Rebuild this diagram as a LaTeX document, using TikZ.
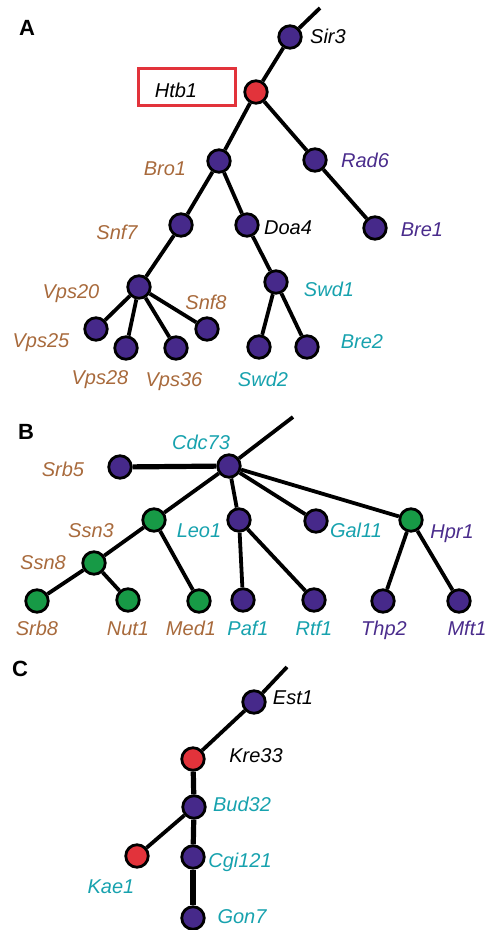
\documentclass[tikz,border=0pt]{standalone}
\usepackage{fontspec}
\setmainfont{Liberation Sans}
\definecolor{npurple}{HTML}{46298A}
\definecolor{nred}{HTML}{E2333B}
\definecolor{ngreen}{HTML}{179A46}
\definecolor{lbrown}{HTML}{A86A3C}
\definecolor{lcyan}{HTML}{17A2AE}
\definecolor{lpurple}{HTML}{4A2C8C}
\begin{document}
\begin{tikzpicture}[x=1pt,y=-1pt,
  gnode/.style={circle,draw=black,line width=2.8pt,minimum size=22.5pt,inner sep=0pt},
  pn/.style={gnode,fill=npurple},
  rn/.style={gnode,fill=nred},
  gn/.style={gnode,fill=ngreen},
  lbl/.style={font=\fontsize{20}{22}\selectfont\itshape,inner sep=0pt,text height=14pt,text depth=0pt,anchor=center},
  panel/.style={font=\fontsize{22}{24}\selectfont\bfseries,inner sep=0pt,text height=16pt,text depth=0pt,anchor=center},
  edge/.style={line width=3.8pt},
  thick edge/.style={line width=5.2pt}
]
\useasboundingbox (0,0) rectangle (489,930);
% ---------- Panel A ----------
\node[panel] (pA) at (27,27) {A};
\coordinate (topA) at (320,8);
\node[pn] (nSir3) at (290,37) {};
\node[rn] (nHtb1) at (256,92) {};
\node[pn] (nBro1) at (219,161) {};
\node[pn] (nRad6) at (315,160) {};
\node[pn] (nSnf7) at (181,225) {};
\node[pn] (nDoa4) at (247,225) {};
\node[pn] (nBre1) at (375,228) {};
\node[pn] (nVps20) at (139,287) {};
\node[pn] (nSwd1) at (276,282) {};
\node[pn] (nVps25) at (96,329) {};
\node[pn] (nVps28) at (126,348) {};
\node[pn] (nVps36) at (176,348) {};
\node[pn] (nSnf8) at (207,329) {};
\node[pn] (nSwd2) at (259,347) {};
\node[pn] (nBre2) at (307,347) {};
\node[draw=nred,line width=2.8pt,minimum width=97pt,minimum height=37pt,inner sep=0pt] (htbbox) at (187,87) {};
\draw[edge] (topA) -- (nSir3);
\draw[edge] (nSir3) -- (nHtb1);
\draw[edge] (nHtb1) -- (nBro1);
\draw[edge] (nHtb1) -- (nRad6);
\draw[edge] (nRad6) -- (nBre1);
\draw[edge] (nBro1) -- (nSnf7);
\draw[edge] (nBro1) -- (nDoa4);
\draw[edge] (nSnf7) -- (nVps20);
\draw[edge] (nDoa4) -- (nSwd1);
\draw[edge] (nVps20) -- (nVps25);
\draw[edge] (nVps20) -- (nVps28);
\draw[edge] (nVps20) -- (nVps36);
\draw[edge] (nVps20) -- (nSnf8);
\draw[edge] (nSwd1) -- (nSwd2);
\draw[edge] (nSwd1) -- (nBre2);
\node[lbl] (tSir3) at (328,36) {Sir3};
\node[lbl] (tHtb1) at (176,90) {Htb1};
\node[lbl,text=lbrown] (tBro1) at (165,168) {Bro1};
\node[lbl,text=lpurple] (tRad6) at (365,160) {Rad6};
\node[lbl,text=lbrown] (tSnf7) at (117,232) {Snf7};
\node[lbl] (tDoa4) at (288,227) {Doa4};
\node[lbl,text=lpurple] (tBre1) at (422,229) {Bre1};
\node[lbl,text=lbrown] (tVps20) at (71,291) {Vps20};
\node[lbl,text=lcyan] (tSwd1) at (329,289) {Swd1};
\node[lbl,text=lbrown] (tSnf8) at (206,302) {Snf8};
\node[lbl,text=lbrown] (tVps25) at (41,340) {Vps25};
\node[lbl,text=lbrown] (tVps28) at (100,377) {Vps28};
\node[lbl,text=lbrown] (tVps36) at (174,379) {Vps36};
\node[lbl,text=lcyan] (tSwd2) at (263,379) {Swd2};
\node[lbl,text=lcyan] (tBre2) at (362,341) {Bre2};
% ---------- Panel B ----------
\node[panel] (pB) at (26,431) {B};
\coordinate (topB) at (293,417);
\node[pn] (nCdc73) at (229,466) {};
\node[pn] (nSrb5) at (120,467) {};
\node[gn] (nSsn3) at (154,520) {};
\node[pn] (nLeo1) at (239,520) {};
\node[pn] (nGal11) at (316,521) {};
\node[gn] (nHpr1) at (411,520) {};
\node[gn] (nSsn8) at (94,563) {};
\node[gn] (nSrb8) at (37,601) {};
\node[gn] (nNut1) at (128,600) {};
\node[gn] (nMed1) at (199,601) {};
\node[pn] (nPaf1) at (243,600) {};
\node[pn] (nRtf1) at (314,600) {};
\node[pn] (nThp2) at (383,601) {};
\node[pn] (nMft1) at (459,601) {};
\draw[edge] (topB) -- (nCdc73);
\draw[thick edge] (nCdc73) -- (nSrb5);
\draw[edge] (nCdc73) -- (nSsn3);
\draw[edge] (nCdc73) -- (nLeo1);
\draw[edge] (nCdc73) -- (nGal11);
\draw[edge] (nCdc73) -- (nHpr1);
\draw[edge] (nSsn3) -- (nSsn8);
\draw[edge] (nSsn3) -- (nMed1);
\draw[edge] (nSsn8) -- (nSrb8);
\draw[edge] (nSsn8) -- (nNut1);
\draw[edge] (nLeo1) -- (nPaf1);
\draw[edge] (nLeo1) -- (nRtf1);
\draw[edge] (nHpr1) -- (nThp2);
\draw[edge] (nHpr1) -- (nMft1);
\node[lbl,text=lcyan] (tCdc73) at (201,442) {Cdc73};
\node[lbl,text=lbrown] (tSrb5) at (63,469) {Srb5};
\node[lbl,text=lbrown] (tSsn3) at (91,530) {Ssn3};
\node[lbl,text=lcyan] (tLeo1) at (199,530) {Leo1};
\node[lbl,text=lcyan] (tGal11) at (356,530) {Gal11};
\node[lbl,text=lpurple] (tHpr1) at (452,531) {Hpr1};
\node[lbl,text=lbrown] (tSsn8) at (43,562) {Ssn8};
\node[lbl,text=lbrown] (tSrb8) at (37,628) {Srb8};
\node[lbl,text=lbrown] (tNut1) at (128,628) {Nut1};
\node[lbl,text=lbrown] (tMed1) at (191,628) {Med1};
\node[lbl,text=lcyan] (tPaf1) at (248,628) {Paf1};
\node[lbl,text=lcyan] (tRtf1) at (314,628) {Rtf1};
\node[lbl,text=lpurple] (tThp2) at (384,628) {Thp2};
\node[lbl,text=lpurple] (tMft1) at (467,628) {Mft1};
% ---------- Panel C ----------
\node[panel] (pC) at (20,668) {C};
\coordinate (topC) at (287,667);
\node[pn] (nEst1) at (254,702) {};
\node[rn] (nKre33) at (193,759) {};
\node[pn] (nBud32) at (194,807) {};
\node[rn] (nKae1) at (137,856) {};
\node[pn] (nCgi121) at (193,857) {};
\node[pn] (nGon7) at (193,918) {};
\draw[edge] (topC) -- (nEst1);
\draw[edge] (nEst1) -- (nKre33);
\draw[thick edge] (nKre33) -- (nBud32);
\draw[thick edge] (nBud32) -- (nCgi121);
\draw[thick edge] (nCgi121) -- (nGon7);
\draw[edge] (nBud32) -- (nKae1);
\node[lbl] (tEst1) at (293,697) {Est1};
\node[lbl] (tKre33) at (256,755) {Kre33};
\node[lbl,text=lcyan] (tBud32) at (242,804) {Bud32};
\node[lbl,text=lcyan] (tCgi121) at (240,860) {Cgi121};
\node[lbl,text=lcyan] (tKae1) at (111,886) {Kae1};
\node[lbl,text=lcyan] (tGon7) at (242,916) {Gon7};
\end{tikzpicture}
\end{document}
